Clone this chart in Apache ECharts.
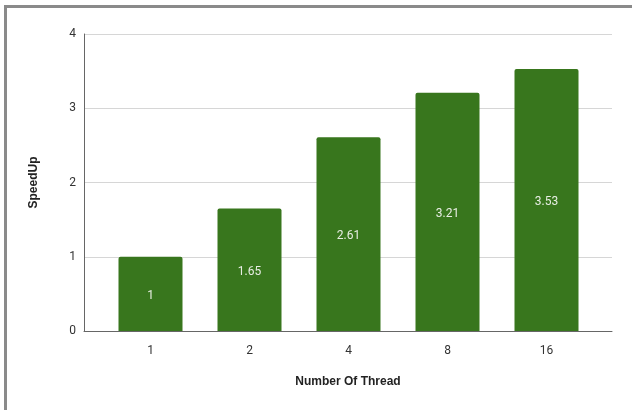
<!DOCTYPE html>
<html><head><meta charset="utf-8">
<script src="https://cdn.jsdelivr.net/npm/echarts@6/dist/echarts.min.js"></script>
<style>
html,body{margin:0;padding:0;background:#fff;}
#wrap{position:relative;width:632px;height:410px;overflow:hidden;}
#frame{position:absolute;left:4px;top:5px;width:640px;height:420px;border-left:3px solid #8a8a8a;border-top:3px solid #8a8a8a;box-sizing:border-box;}
#chart{position:absolute;left:0;top:0;width:632px;height:410px;}
</style></head>
<body><div id="wrap"><div id="chart"></div><div id="frame"></div></div>
<script>
const categories = ['1', '2', '4', '8', '16'];
const speedUp = [1, 1.65, 2.61, 3.21, 3.53];
const yTicks = [0, 1, 2, 3, 4];

const chart = echarts.init(document.getElementById('chart'), null, {renderer: 'canvas'});
chart.setOption({
  animation: false,
  grid: [
    {left: 84, right: 20, top: 34, bottom: 79},
    {left: 101, right: 36, top: 34, bottom: 79}
  ],
  xAxis: [
    {gridIndex: 0, type: 'value', min: 0, max: 1,
     axisLine: {show: true, lineStyle: {color: '#666', width: 1}},
     axisTick: {show: false}, axisLabel: {show: false}, splitLine: {show: false},
     name: 'Number Of Thread', nameLocation: 'middle', nameGap: 45,
     nameTextStyle: {fontFamily: 'Liberation Sans, Arial', fontWeight: 'bold', fontSize: 12, color: '#222'}},
    {gridIndex: 1, type: 'category', data: categories,
     axisLine: {show: false}, axisTick: {show: false},
     axisLabel: {margin: 14, fontFamily: 'Roboto', fontSize: 12, color: '#333'}}
  ],
  yAxis: [
    {gridIndex: 0, type: 'value', min: yTicks[0], max: yTicks[yTicks.length - 1], interval: 1,
     axisLine: {show: true, lineStyle: {color: '#666', width: 1}},
     axisTick: {show: false},
     axisLabel: {margin: 8, fontFamily: 'Roboto', fontSize: 12, color: '#333'},
     splitLine: {show: true, lineStyle: {color: '#d6d6d6', width: 1}},
     name: 'SpeedUp', nameLocation: 'middle', nameGap: 44,
     nameTextStyle: {fontFamily: 'Liberation Sans, Arial', fontWeight: 'bold', fontSize: 12, color: '#222'}},
    {gridIndex: 1, type: 'value', min: 0, max: 4, show: false}
  ],
  series: [{
    type: 'bar', xAxisIndex: 1, yAxisIndex: 1,
    data: speedUp, barWidth: 64,
    itemStyle: {color: '#38761d', borderRadius: [2, 2, 0, 0]},
    label: {show: true, position: 'inside', offset: [0, 2], color: '#e8eee4', fontFamily: 'Roboto', fontSize: 12}
  }]
});
</script></body></html>
